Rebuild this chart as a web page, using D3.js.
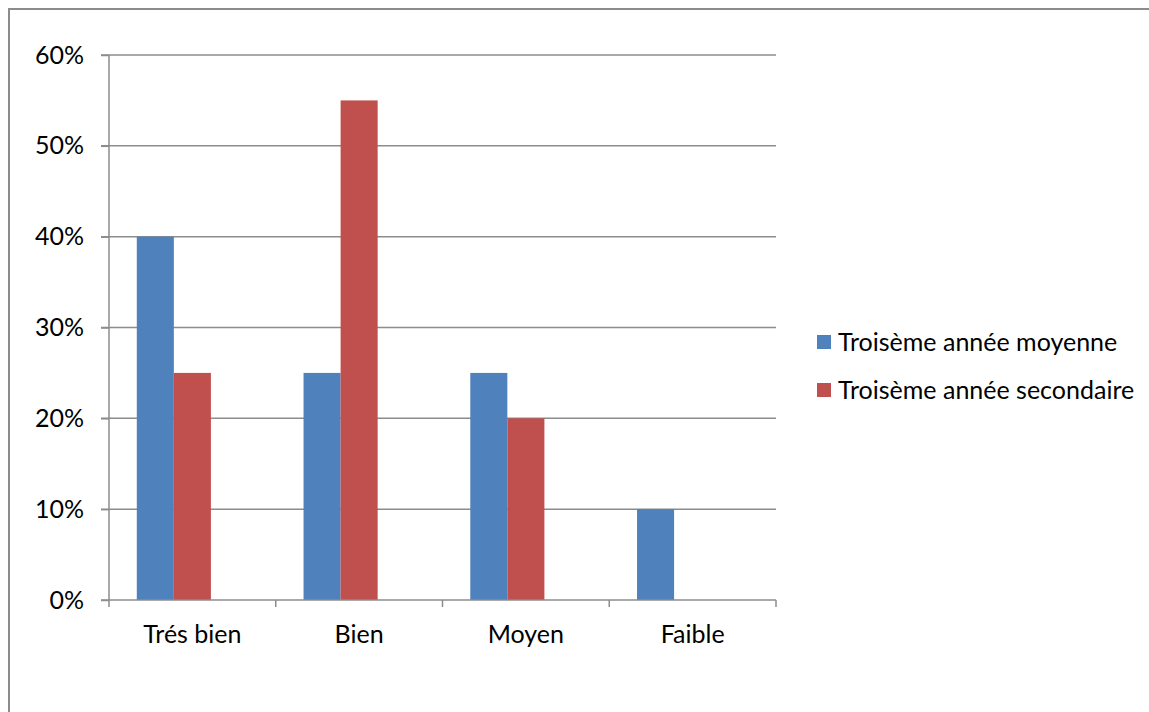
<!DOCTYPE html>
<html><head><meta charset="utf-8">
<script src="https://cdn.jsdelivr.net/npm/d3@7"></script>
<style>body{margin:0;background:#fff}svg{display:block}</style>
</head><body>
<svg id="c" width="1149" height="712"></svg>
<script>
const categories = ["Trés bien", "Bien", "Moyen", "Faible"];
const seriesNames = ["Troisème année moyenne", "Troisème année secondaire", ""];
const moyenne = [0.40, 0.25, 0.25, 0.10];
const secondaire = [0.25, 0.55, 0.20, 0];
const empty = [0, 0, 0, 0];
const yTicks = [0, 0.1, 0.2, 0.3, 0.4, 0.5, 0.6];
const colors = ["#4f81bd", "#c0504d", "none"];
const seriesValues = [moyenne, secondaire, empty];

const svg = d3.select("#c");
const font = "Lato, 'Open Sans', sans-serif";
const fs = 25;

svg.append("rect").attr("x", 9).attr("y", 9).attr("width", 1160).attr("height", 720)
  .attr("fill", "none").attr("stroke", "#8c8c8c").attr("stroke-width", 2);

const L = 109, R = 776, T = 55, B = 600;
const x = d3.scaleBand().domain(categories).range([L, R]).paddingInner(0).paddingOuter(0);
const y = d3.scaleLinear().domain([0, 0.6]).range([B, T]);
const inner = x.bandwidth();
const barW = inner / 4.5;
const xs = d3.scaleBand().domain([0,1,2]).range([barW*0.75, inner - barW*0.75]);

// gridlines
svg.append("g").selectAll("line").data(yTicks.slice(1)).join("line")
  .attr("x1", L - 8).attr("x2", R).attr("y1", d => y(d)).attr("y2", d => y(d))
  .attr("stroke", "#8c8c8c").attr("stroke-width", 1.5);

// bars
seriesValues.forEach((vals, si) => {
  if (colors[si] === "none") return;
  svg.append("g").selectAll("rect").data(vals.map((v,i)=>({v, c: categories[i]}))).join("rect")
    .attr("x", d => x(d.c) + xs(si)).attr("width", xs.bandwidth())
    .attr("y", d => y(d.v)).attr("height", d => B - y(d.v))
    .attr("fill", colors[si]);
});

// y axis
const yAxis = d3.axisLeft(y).tickValues(yTicks).tickFormat(d3.format(".0%")).tickSize(8).tickPadding(17);
const gy = svg.append("g").attr("transform", `translate(${L},0)`).call(yAxis);
gy.select(".domain").attr("stroke", "#8c8c8c").attr("stroke-width", 1.5).attr("d", `M0,${T}V${B}`);
gy.selectAll(".tick line").attr("stroke", "#8c8c8c").attr("stroke-width", 1.5);
gy.selectAll("text").attr("font-family", font).attr("font-size", fs).attr("fill", "#000");

// x axis
const xAxis = d3.axisBottom(x).tickSize(0).tickPadding(25);
const gx = svg.append("g").attr("transform", `translate(0,${B})`).call(xAxis);
gx.select(".domain").attr("stroke", "#8c8c8c").attr("stroke-width", 1.5).attr("d", `M${L-8},0H${R}`);
gx.selectAll("text").attr("font-family", font).attr("font-size", fs).attr("fill", "#000");
const boundaries = [L, ...categories.map(c => x(c) + inner)];
gx.selectAll("line.bt").data(boundaries).join("line").attr("class","bt")
  .attr("x1", d => d).attr("x2", d => d).attr("y1", 0).attr("y2", 7)
  .attr("stroke", "#8c8c8c").attr("stroke-width", 1.5);

// legend
const leg = svg.append("g").attr("transform", "translate(817,342)");
[0,1].forEach(i => {
  const g = leg.append("g").attr("transform", `translate(0,${i*48})`);
  g.append("rect").attr("x", 0).attr("y", -7).attr("width", 14).attr("height", 14).attr("fill", colors[i]);
  g.append("text").attr("x", 21).attr("y", 0).attr("dy", "0.35em")
    .attr("font-family", font).attr("font-size", fs).attr("fill", "#000").text(seriesNames[i]);
});
</script>
</body></html>
